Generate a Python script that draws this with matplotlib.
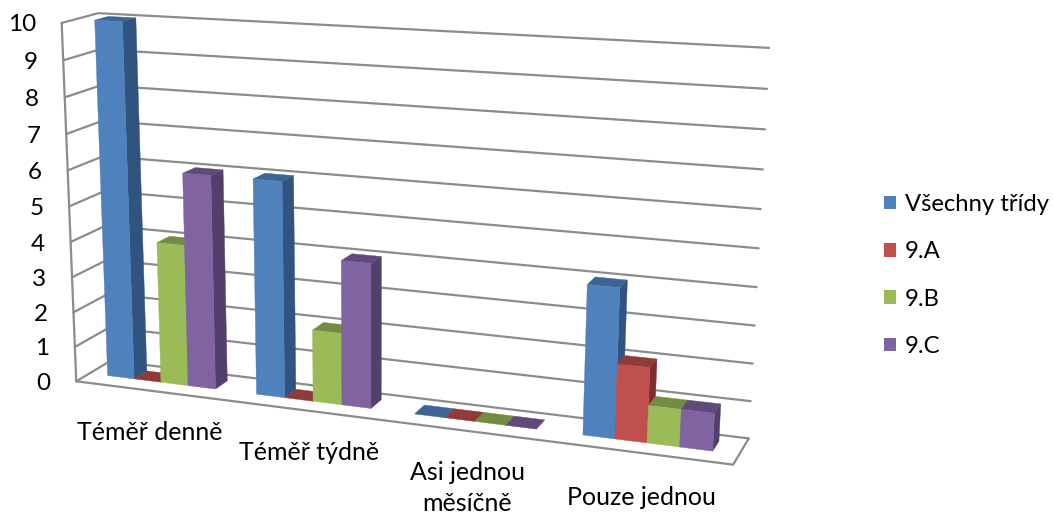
import numpy as np
import matplotlib
matplotlib.use("Agg")
import matplotlib.pyplot as plt
from matplotlib.patches import Polygon, Patch

categories = ["Téměř denně", "Téměř týdně", "Asi jednou\nměsíčně", "Pouze jednou"]
series_names = ["Všechny třídy", "9.A", "9.B", "9.C"]
vsechny = [10, 6, 0, 4]
trida_a = [0, 0, 0, 2]
trida_b = [4, 2, 0, 1]
trida_c = [6, 4, 0, 1]
ticks = list(range(0, 11))

front_cols = ["#4F81BD", "#C0504D", "#9BBB59", "#8064A2"]
side_cols = ["#31537F", "#7F2E2C", "#66803A", "#533F6C"]
top_cols = ["#3C6494", "#8F3B39", "#748C42", "#604A7B"]
GRID = "#8C8C8C"

# Perspective camera: fitted from the plot box corners (category, value, depth) -> pixel
box = np.array([[0, 0, 0], [4, 0, 0], [4, 0, 1], [0, 0, 1], [0, 10, 0], [0, 10, 1], [4, 10, 1]], float)
pix = np.array([[78, 380], [733, 466], [749, 437], [109, 362], [60, 23], [100, 13], [769, 48]], float)
A, b = [], []
for (X, Y, Z), (x, y) in zip(box, pix):
    A.append([X, Y, Z, 1, 0, 0, 0, 0, -x * X, -x * Y, -x * Z]); b.append(x)
    A.append([0, 0, 0, 0, X, Y, Z, 1, -y * X, -y * Y, -y * Z]); b.append(y)
P = np.append(np.linalg.lstsq(np.array(A), np.array(b), rcond=None)[0], 1).reshape(3, 4)


def proj(u, v, w):
    h = P @ np.array([u, v, w, 1.0])
    return h[:2] / h[2]


fig = plt.figure(figsize=(10.53, 5.15), dpi=100)
ax = fig.add_axes([0, 0, 1, 1])
ax.set_xlim(0, 1053)
ax.set_ylim(515, 0)
ax.axis("off")
plt.rcParams["font.family"] = "Lato"
FS_TICK = 17.5
FS_CAT = 18
FS_LEG = 17.2


def line(points, z=1):
    pts = np.array([proj(*p) for p in points])
    ax.plot(pts[:, 0], pts[:, 1], color=GRID, lw=1.6, zorder=z, solid_capstyle="round", solid_joinstyle="miter")


for t in ticks:
    line([(0, t, 0), (0, t, 1), (4, t, 1)])
line([(0, 0, 0), (0, 10, 0)])
line([(0, 0, 0), (4, 0, 0), (4, 0, 1)])

# Bars
G0, G1 = 0.125, 0.855
W0, W1 = 0.38, 0.76
values = [vsechny, trida_a, trida_b, trida_c]
z = 3
for c in range(len(categories)):
    step = (G1 - G0) / len(values)
    for s, vals in enumerate(values):
        v = vals[c]
        u0 = c + G0 + s * step
        u1 = u0 + step
        if v > 0:
            side = [proj(u1, 0, W0), proj(u1, 0, W1), proj(u1, v, W1), proj(u1, v, W0)]
            ax.add_patch(Polygon(side, fc=side_cols[s], ec=side_cols[s], lw=0.3, zorder=z))
            z += 1
        top = [proj(u0, v, W0), proj(u1, v, W0), proj(u1, v, W1), proj(u0, v, W1)]
        ax.add_patch(Polygon(top, fc=top_cols[s], ec=top_cols[s], lw=0.3, zorder=z))
        z += 1
        if v > 0:
            front = [proj(u0, 0, W0), proj(u1, 0, W0), proj(u1, v, W0), proj(u0, v, W0)]
            ax.add_patch(Polygon(front, fc=front_cols[s], ec=front_cols[s], lw=0.3, zorder=z))
            z += 1

# Tick labels
for t in ticks:
    ax.annotate(str(t), proj(0, t, 0), xytext=(-18.5, 0), textcoords="offset points",
                ha="right", va="center_baseline", fontsize=FS_TICK, color="black")

offs_x = [0, 3.6, 0, 0]
offs_y = [-22, -22, -22, -24]
for c, name in enumerate(categories):
    ax.annotate(name, proj(c + 0.5, 0, 0), xytext=(offs_x[c], offs_y[c]), textcoords="offset points",
                ha="center", va="top", fontsize=FS_CAT, color="black", linespacing=1.41)

handles = [Patch(fc=col, ec="none", label=n) for col, n in zip(front_cols, series_names)]
ax.legend(handles=handles, loc="center left", bbox_to_anchor=(884 / 1053, 1 - 275.5 / 515),
          frameon=False, fontsize=FS_LEG, labelspacing=1.10, handlelength=0.5, handleheight=0.5,
          handletextpad=0.37, borderpad=0, borderaxespad=0)

fig.savefig("out.png", dpi=100)
